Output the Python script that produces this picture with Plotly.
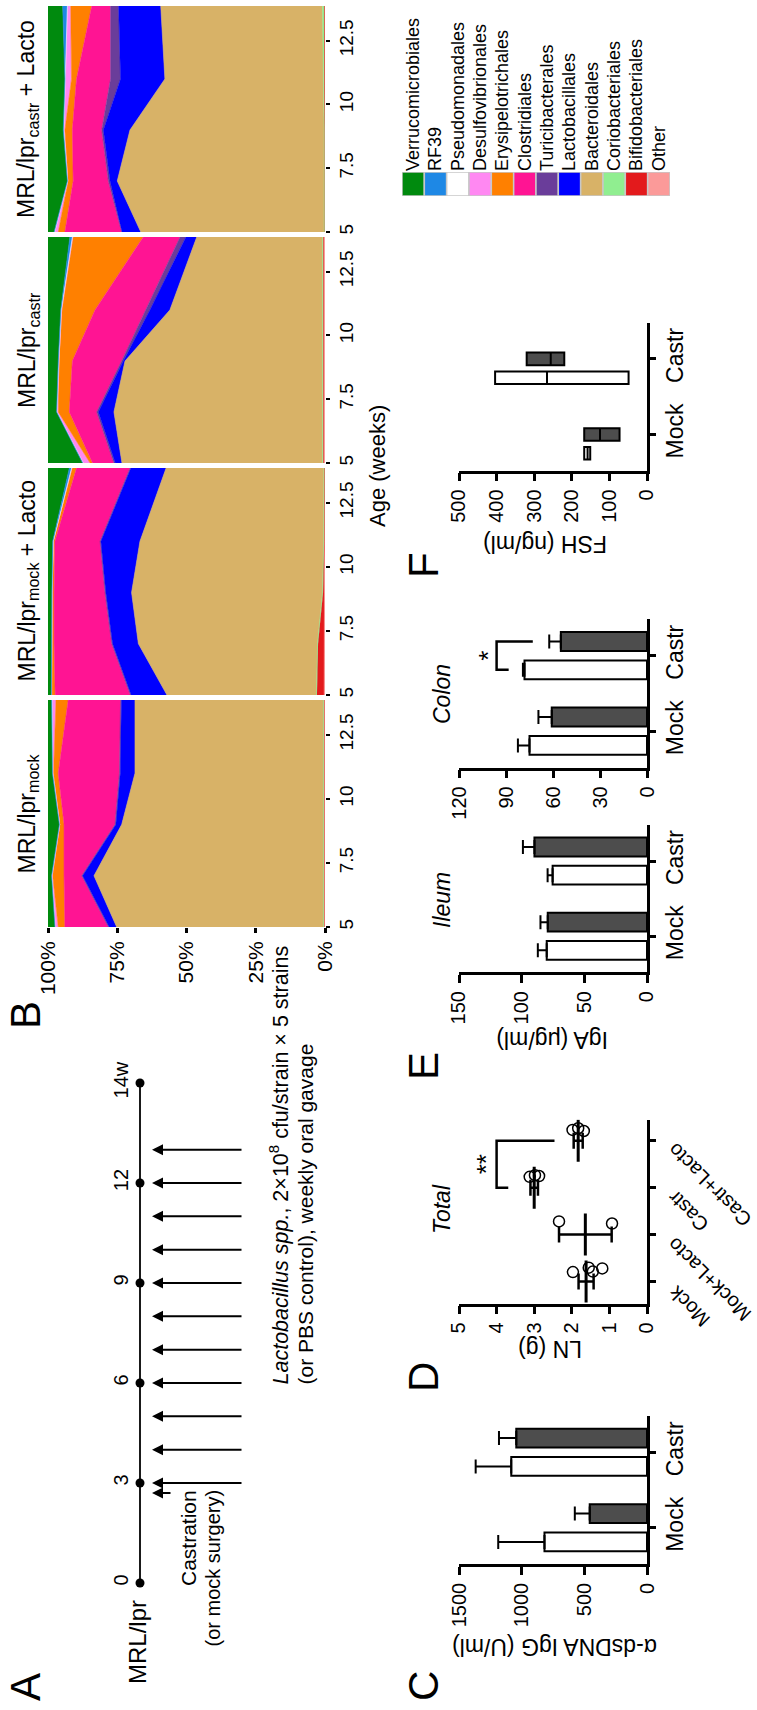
import plotly.graph_objects as go

W, H = 757, 1710
FONT = "Liberation Sans, Arial, Helvetica, sans-serif"

# ---------------- Panel B : relative abundance (orders) ----------------
ages = [5, 7, 9, 11, 13.86]
orders = ["Verrucomicrobiales", "RF39", "Pseudomonadales", "Desulfovibrionales",
          "Erysipelotrichales", "Clostridiales", "Turicibacterales", "Lactobacillales",
          "Bacteroidales", "Coriobacteriales", "Bifidobacteriales", "Other"]
order_colors = ["#008a0e", "#1e88e5", "#ffffff", "#ff88f2", "#ff8000", "#ff1493",
                "#6a3d9a", "#0000ff", "#d8b267", "#90ee90", "#e31a1c", "#fb9a99"]

# rows follow `orders`, columns follow `ages`
castr_lacto = [
    [2.2, 7.0, 5.5, 6.1, 5.3],
    [0.2, 0.1, 0.2, 0.2, 1.7],
    [0.0, 0.0, 0.0, 0.0, 0.0],
    [1.3, 0.2, 0.4, 2.2, 1.2],
    [2.4, 1.8, 2.7, 1.8, 7.6],
    [20.5, 12.7, 10.6, 12.3, 6.8],
    [0.1, 0.6, 0.6, 3.6, 2.9],
    [6.8, 2.6, 9.6, 16.0, 15.2],
    [66.2, 74.7, 70.1, 57.2, 58.4],
    [0.2, 0.2, 0.2, 0.4, 0.7],
    [0.0, 0.0, 0.0, 0.0, 0.0],
    [0.1, 0.1, 0.1, 0.2, 0.2],
]
castr = [
    [12.5, 3.1, 3.7, 4.6, 7.9],
    [0.2, 0.1, 0.2, 0.2, 0.9],
    [0.0, 0.0, 0.0, 0.0, 0.0],
    [2.5, 0.5, 0.2, 0.3, 0.3],
    [0.9, 4.0, 4.7, 11.9, 25.3],
    [7.7, 9.9, 17.8, 18.4, 13.3],
    [0.5, 0.6, 0.6, 1.4, 2.1],
    [2.4, 5.6, 0.6, 7.2, 3.9],
    [72.4, 75.3, 71.3, 55.1, 45.4],
    [0.3, 0.3, 0.3, 0.3, 0.3],
    [0.2, 0.2, 0.2, 0.2, 0.2],
    [0.4, 0.4, 0.4, 0.4, 0.4],
]
mock_lacto = [
    [1.2, 1.2, 1.4, 1.7, 7.7],
    [0.1, 0.1, 0.1, 0.2, 0.8],
    [0.0, 0.0, 0.0, 0.0, 0.0],
    [0.1, 0.1, 0.1, 0.1, 0.3],
    [1.2, 0.8, 0.6, 0.5, 1.5],
    [27.1, 20.8, 18.4, 16.3, 19.3],
    [0.3, 0.3, 0.3, 0.3, 0.3],
    [12.9, 9.3, 9.3, 14.1, 12.7],
    [53.9, 64.6, 69.0, 66.3, 56.9],
    [0.2, 0.2, 0.2, 0.2, 0.2],
    [2.6, 2.2, 0.5, 0.1, 0.1],
    [0.3, 0.3, 0.2, 0.2, 0.1],
]
mock = [
    [2.5, 1.3, 4.1, 1.6, 1.3],
    [0.1, 0.1, 0.1, 0.1, 0.2],
    [0.0, 0.0, 0.0, 0.0, 0.0],
    [1.1, 0.3, 0.2, 0.3, 1.4],
    [2.4, 4.1, 1.4, 1.7, 4.4],
    [15.7, 6.4, 18.4, 22.1, 18.9],
    [0.3, 0.3, 0.3, 0.3, 0.3],
    [2.7, 4.1, 2.1, 5.3, 4.9],
    [74.6, 82.8, 72.8, 68.0, 68.0],
    [0.3, 0.3, 0.3, 0.3, 0.3],
    [0.0, 0.0, 0.0, 0.0, 0.0],
    [0.3, 0.3, 0.3, 0.3, 0.3],
]
b_titles = ["MRL/lpr<sub>castr</sub> + Lacto", "MRL/lpr<sub>castr</sub>",
            "MRL/lpr<sub>mock</sub> + Lacto", "MRL/lpr<sub>mock</sub>"]
pct_ticks = [100, 75, 50, 25, 0]
pct_labels = ["100%", "75%", "50%", "25%", "0%"]
age_ticks = [5, 7.5, 10, 12.5]

# ---------------- Panel C : anti-dsDNA IgG ----------------
groups2 = ["Mock", "Castr"]
c_open = [818, 1083]
c_open_err = [369, 284]
c_filled = [457, 1043]
c_filled_err = [119, 138]

# ---------------- Panel D : LN weight ----------------
d_groups = ["Mock", "Mock+Lacto", "Castr", "Castr+Lacto"]
d_pts_mock = [1.97, 1.55, 1.44, 1.19]
d_pts_mock_lacto = [2.34, 0.93]
d_pts_castr = [3.12, 2.98, 2.87]
d_pts_castr_lacto = [1.98, 1.83, 1.68]
d_mean = [1.62, 1.64, 3.0, 1.83]
d_sem = [0.2, 0.7, 0.1, 0.12]

# ---------------- Panel E : IgA ----------------
e_ileum_open = [80.0, 75.3]
e_ileum_open_err = [7.1, 4.0]
e_ileum_filled = [79.2, 89.8]
e_ileum_filled_err = [5.8, 9.2]
e_colon_open = [75.0, 78.2]
e_colon_open_err = [7.4, 1.0]
e_colon_filled = [60.8, 55.0]
e_colon_filled_err = [8.5, 7.4]

# ---------------- Panel F : FSH (min / median / max) ----------------
f_open_min = [151, 49]
f_open_med = [158, 266]
f_open_max = [167, 404]
f_filled_min = [73, 220]
f_filled_med = [125, 256]
f_filled_max = [167, 320]

# ---------------- Panel A : timeline ----------------
dot_pos = [0, 3, 6, 9, 12, 15]
dot_labels = ["0", "3", "6", "9", "12", "14w"]
gavage_weeks = [3, 4, 5, 6, 7, 8, 9, 10, 11, 12, 13]
castration_week = 2.7

# ======================================================================
DARK = "#4d4d4d"


def dom_x(a, b):
    return [a / W, b / W]


def dom_y(top, bottom):
    return [1 - bottom / H, 1 - top / H]


def keys(n):
    if n == 1:
        return "xaxis", "yaxis", "x", "y"
    return f"xaxis{n}", f"yaxis{n}", f"x{n}", f"y{n}"


fig = go.Figure()
layout = {}
annotations = []
shapes = []


def ann(x, y, text, size, angle=-90, xanchor="center", yanchor="middle"):
    annotations.append(dict(x=x / W, y=1 - y / H, xref="paper", yref="paper", text=text,
                            showarrow=False, textangle=angle, xanchor=xanchor,
                            yanchor=yanchor,
                            font=dict(size=size, family=FONT, color="black")))


# ---------------- Panel B ----------------
b_panels = [castr_lacto, castr, mock_lacto, mock]
b_tops = [6, 237, 468, 700]
b_bottoms = [232, 463, 695, 927]
for i, data in enumerate(b_panels):
    n = i + 1
    xk, yk, xa, ya = keys(n)
    for k in range(len(orders) - 1, -1, -1):
        fig.add_trace(go.Scatter(
            x=data[k], y=ages, stackgroup=f"b{n}", orientation="h", groupnorm="percent",
            mode="lines", line=dict(width=0.6, color=order_colors[k]),
            fillcolor=order_colors[k], xaxis=xa, yaxis=ya, showlegend=False,
            hoverinfo="skip"))
    last = (n == 4)
    layout[xk] = dict(domain=dom_x(48, 325), range=[100, 0], anchor=ya, automargin=False,
                      showgrid=False, zeroline=False, showline=False,
                      tickvals=pct_ticks, ticktext=pct_labels, showticklabels=last,
                      ticks="outside" if last else "", ticklen=5, tickwidth=2.5,
                      tickcolor="black", tickangle=-90,
                      tickfont=dict(size=21, family=FONT, color="black"))
    layout[yk] = dict(domain=dom_y(b_tops[i], b_bottoms[i]), range=[5, 13.86], anchor=xa,
                      side="right", tickvals=age_ticks, ticks="outside", ticklen=4,
                      tickwidth=1.5, tickcolor="black", tickangle=-90, automargin=False,
                      showgrid=False, zeroline=False, showline=False,
                      tickfont=dict(size=19, family=FONT, color="black"))
    ann(28, (b_tops[i] + b_bottoms[i]) / 2, b_titles[i], 23)

ann(377, 466, "Age (weeks)", 22)

# ---------------- Legend (colour key) ----------------
xk, yk, xa, ya = keys(5)
fig.add_trace(go.Bar(x=orders, y=[1] * len(orders), width=[1] * len(orders),
                     marker=dict(color=order_colors, line=dict(color="#c8c8c8", width=1.5)),
                     xaxis=xa, yaxis=ya, showlegend=False, hoverinfo="skip"))
layout[xk] = dict(domain=dom_x(402, 670), type="category", categoryorder="array",
                  categoryarray=orders, range=[-0.5, len(orders) - 0.5], side="top",
                  tickmode="array", tickvals=orders, ticktext=orders, automargin=False,
                  anchor=ya, tickangle=-90, ticks="", showline=False, showgrid=False,
                  zeroline=False, tickfont=dict(size=18, family=FONT, color="black"))
layout[yk] = dict(domain=dom_y(172, 196), range=[0, 1], visible=False, anchor=xa)


def value_axis(n, rng, tickvals):
    xk, yk, xa, ya = keys(n)
    layout[xk] = dict(domain=dom_x(459, 647), range=rng, anchor=ya, tickvals=tickvals,
                      ticks="outside", ticklen=8, tickwidth=2.5, tickcolor="black",
                      showline=True, linewidth=2.5, linecolor="black", tickangle=-90,
                      showgrid=False, zeroline=False, automargin=False,
                      tickfont=dict(size=20, family=FONT, color="black"))


def cat_axis(n, top, bottom, cats, labels=True, lo=-0.48, hi_pad=0.48):
    xk, yk, xa, ya = keys(n)
    layout[yk] = dict(domain=dom_y(top, bottom), type="category", categoryorder="array",
                      categoryarray=cats, range=[lo, len(cats) - 1 + hi_pad], anchor=xa,
                      side="right", showline=True, linewidth=2.5, linecolor="black",
                      ticks="outside", ticklen=6, tickwidth=2.5, tickcolor="black",
                      tickangle=-90, showticklabels=labels, showgrid=False, zeroline=False,
                      automargin=False,
                      tickfont=dict(size=23, family=FONT, color="black"))


def bar_pair(n, open_v, open_e, fill_v, fill_e):
    xk, yk, xa, ya = keys(n)
    for vals, errs, col in [(open_v, open_e, "white"), (fill_v, fill_e, DARK)]:
        fig.add_trace(go.Bar(
            x=vals, y=groups2, orientation="h", xaxis=xa, yaxis=ya,
            marker=dict(color=col, line=dict(color="black", width=2)),
            error_x=dict(type="data", array=errs, arrayminus=[0] * len(errs),
                         symmetric=False, thickness=2, width=7, color="black"),
            showlegend=False, hoverinfo="skip"))


# ---------------- Panel F ----------------
xk, yk, xa, ya = keys(6)
for mn, md, mx, col in [(f_open_min, f_open_med, f_open_max, "white"),
                        (f_filled_min, f_filled_med, f_filled_max, DARK)]:
    fig.add_trace(go.Box(y=groups2, q1=mn, median=md, q3=mx, lowerfence=mn, upperfence=mx,
                         orientation="h", fillcolor=col, boxpoints=False, whiskerwidth=0,
                         line=dict(color="black", width=2), xaxis=xa, yaxis=ya,
                         showlegend=False, hoverinfo="skip"))
value_axis(6, [500, 0], [0, 100, 200, 300, 400, 500])
cat_axis(6, 322.6, 470.7, groups2)
ann(545, 544, "FSH (ng/ml)", 23, angle=180)
ann(423, 565, "F", 42)

# ---------------- Panel E ----------------
bar_pair(7, e_ileum_open, e_ileum_open_err, e_ileum_filled, e_ileum_filled_err)
value_axis(7, [150, 0], [0, 50, 100, 150])
cat_axis(7, 825, 972.3, groups2)
bar_pair(8, e_colon_open, e_colon_open_err, e_colon_filled, e_colon_filled_err)
value_axis(8, [120, 0], [0, 30, 60, 90, 120])
cat_axis(8, 619.4, 767.5, groups2)
ann(442, 900, "<i>Ileum</i>", 23)
ann(442, 694, "<i>Colon</i>", 23)
ann(552, 1040, "IgA (\u03bcg/ml)", 23, angle=180)
ann(423, 1066, "E", 42)
# significance bracket (colon, Castr open vs filled)
shapes.append(dict(type="path", xref="x8", yref="y8",
                   path="M 88.3,0.8125 L 96,0.8125 L 96,1.1875 L 72.9,1.1875",
                   line=dict(color="black", width=2.5)))
annotations.append(dict(x=102, y=1, xref="x8", yref="y8", text="*", showarrow=False,
                        textangle=-90, font=dict(size=26, family=FONT, color="black")))

# ---------------- Panel D ----------------
xk, yk, xa, ya = keys(9)
d_all_pts = d_pts_mock + d_pts_mock_lacto + d_pts_castr + d_pts_castr_lacto
d_all_grp = ([d_groups[0]] * len(d_pts_mock) + [d_groups[1]] * len(d_pts_mock_lacto)
             + [d_groups[2]] * len(d_pts_castr) + [d_groups[3]] * len(d_pts_castr_lacto))
fig.add_trace(go.Box(x=d_all_pts, y=d_all_grp, orientation="h", boxpoints="all", jitter=0.7,
                     pointpos=0, fillcolor="rgba(0,0,0,0)",
                     line=dict(width=0, color="rgba(0,0,0,0)"),
                     marker=dict(symbol="circle-open", size=11, color="black",
                                 line=dict(width=1.5, color="black")),
                     xaxis=xa, yaxis=ya, showlegend=False, hoverinfo="skip"))
fig.add_trace(go.Scatter(x=d_mean, y=d_groups, mode="markers",
                         marker=dict(symbol="line-ns", size=30,
                                     line=dict(width=3, color="black")),
                         error_x=dict(type="data", array=d_sem, thickness=2.5, width=8,
                                      color="black"),
                         xaxis=xa, yaxis=ya, showlegend=False, hoverinfo="skip"))
value_axis(9, [5, 0], [0, 1, 2, 3, 4, 5])
cat_axis(9, 1119.6, 1303.6, d_groups, labels=False, lo=-0.47, hi_pad=0.45)
for g in d_groups:
    annotations.append(dict(x=661 / W, xref="paper", y=g, yref="y9", yshift=4,
                            text=g, showarrow=False, textangle=-135, xanchor="left",
                            yanchor="top", font=dict(size=20, family=FONT, color="black")))
shapes.append(dict(type="path", xref="x9", yref="y9",
                   path="M 3.69,2 L 4.0,2 L 4.0,3 L 2.46,3",
                   line=dict(color="black", width=2.5)))
annotations.append(dict(x=4.28, y=2.5, xref="x9", yref="y9", text="**", showarrow=False,
                        textangle=-90, font=dict(size=26, family=FONT, color="black")))
ann(442, 1209, "<i>Total</i>", 23)
ann(550, 1349, "LN (g)", 23, angle=180)
ann(423, 1377, "D", 42)

# ---------------- Panel C ----------------
bar_pair(10, c_open, c_open_err, c_filled, c_filled_err)
value_axis(10, [1500, 0], [0, 500, 1000, 1500])
cat_axis(10, 1416, 1564, groups2)
ann(555, 1647, "\u03b1-dsDNA IgG (U/ml)", 23, angle=180)
ann(423, 1686, "C", 42)

# ---------------- Panel A : timeline ----------------
TL_X = 140
HEAD_X = 152
TAIL_X = 243
CASTR_TAIL_X = 172
xk, yk, xa, ya = keys(11)
fig.add_trace(go.Scatter(x=[TL_X, TL_X], y=[dot_pos[0], dot_pos[-1]], mode="lines",
                         line=dict(color="black", width=1.8), xaxis=xa, yaxis=ya,
                         showlegend=False, hoverinfo="skip"))
fig.add_trace(go.Scatter(x=[TL_X] * len(dot_pos), y=dot_pos, mode="markers",
                         marker=dict(size=9, color="black"), xaxis=xa, yaxis=ya,
                         showlegend=False, hoverinfo="skip"))
layout[xk] = dict(domain=dom_x(100, 360), range=[100, 360], visible=False, anchor=ya,
                  automargin=False)
layout[yk] = dict(domain=dom_y(1049.7, 1599.7), range=[-0.5, 16], anchor="free",
                  position=TL_X / W, side="left", tickvals=dot_pos, ticktext=dot_labels,
                  tickangle=-90, ticks="", showline=False, showgrid=False, zeroline=False,
                  automargin=False, ticklabelstandoff=8,
                  tickfont=dict(size=20, family=FONT, color="black"))
for w in gavage_weeks:
    annotations.append(dict(x=HEAD_X, y=w, ax=TAIL_X, ay=w, xref=xa, yref=ya, axref=xa,
                            ayref=ya, text="", showarrow=True, arrowhead=2, arrowsize=1.1,
                            arrowwidth=2, arrowcolor="black", standoff=0))
annotations.append(dict(x=HEAD_X, y=castration_week, ax=CASTR_TAIL_X, ay=castration_week,
                        xref=xa, yref=ya, axref=xa, ayref=ya, text="", showarrow=True,
                        arrowhead=2, arrowsize=1.1, arrowwidth=2, arrowcolor="black",
                        standoff=0))
ann(137, 1642, "MRL/lpr", 24)
ann(188, 1488, "Castration", 21, yanchor="top")
ann(212, 1488, "(or mock surgery)", 20, yanchor="top")
ann(278, 1387, "<i>Lactobacillus spp.</i>, 2\u00d710<sup>8</sup> cfu/strain \u00d7 5 strains",
    21.5, yanchor="bottom")
ann(305, 1387, "(or PBS control), weekly oral gavage", 21, yanchor="bottom")
ann(25, 1687, "A", 42)
ann(25, 1015, "B", 42)

fig.update_layout(
    width=W, height=H, margin=dict(l=0, r=0, t=0, b=0, pad=0, autoexpand=False),
    paper_bgcolor="white", plot_bgcolor="white", showlegend=False,
    font=dict(family=FONT, color="black"),
    barmode="group", bargap=0.25, bargroupgap=0.333,
    boxmode="group", boxgap=0.25, boxgroupgap=0.333,
    annotations=annotations, shapes=shapes,
    **layout)

fig.write_html("out.html", config={"displayModeBar": False},
               post_script="document.body.style.margin='0px';")
